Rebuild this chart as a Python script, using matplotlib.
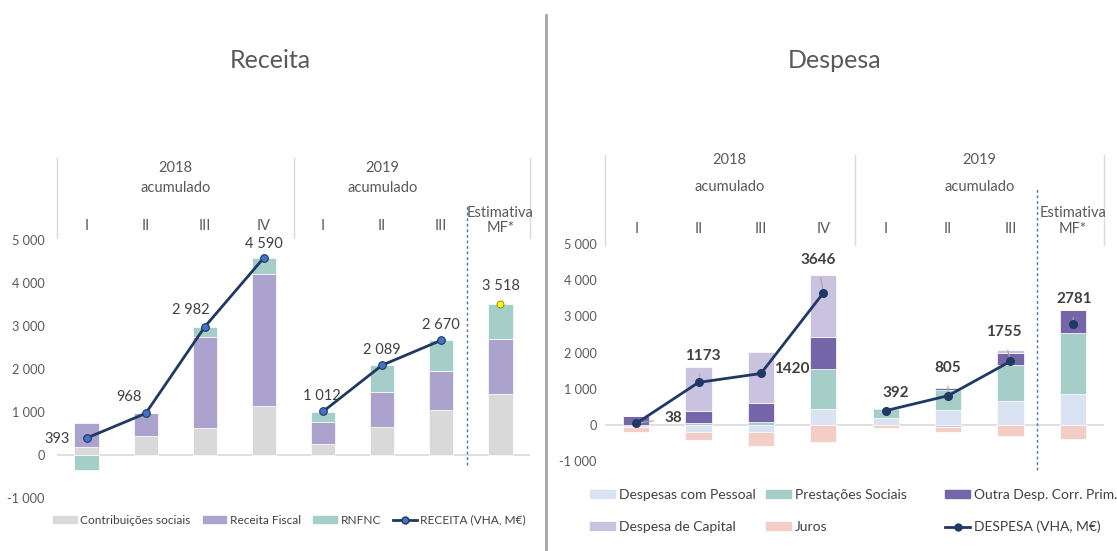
import numpy as np
import matplotlib.pyplot as plt
from matplotlib.patches import Patch
from matplotlib.lines import Line2D
from matplotlib.ticker import FuncFormatter

plt.rcParams['font.family'] = ['Lato', 'DejaVu Sans']

# Categories
quarters = ["I", "II", "III", "IV", "I", "II", "III", "Estimativa\nMF*"]

# Receita (M€)
contrib_sociais = [180, 440, 620, 1140, 250, 650, 1040, 1430]
receita_fiscal = [560, 530, 2130, 3075, 520, 810, 920, 1260]
rnfnc = [-350, 0, 230, 375, 240, 630, 710, 830]
receita_total = [393, 968, 2982, 4590, 1012, 2089, 2670, 3518]
receita_labels = ["393", "968", "2 982", "4 590", "1 012", "2 089", "2 670", "3 518"]

# Despesa (M€)
desp_pessoal = [-70, -185, -185, 440, 200, 400, 650, 860]
prest_sociais = [0, 50, 65, 1100, 230, 575, 1000, 1670]
outra_desp = [240, 320, 545, 900, 45, 45, 325, 650]
desp_capital = [10, 1220, 1400, 1690, 0, -50, 85, 0]
juros = [-140, -230, -400, -480, -80, -160, -305, -400]
despesa_total = [38, 1173, 1420, 3646, 392, 805, 1755, 2781]

GREY_TXT = "#595959"
NAVY = "#1F3864"

fig = plt.figure(figsize=(11.17, 5.51), dpi=100)
W, H = 1117, 551


def ax_at(x0, x1, y_top, y_bot):
    return fig.add_axes([x0 / W, 1 - y_bot / H, (x1 - x0) / W, (y_bot - y_top) / H])


def stack(ax, series, colors, width):
    x = np.arange(len(quarters))
    pos = np.zeros(len(x))
    neg = np.zeros(len(x))
    for vals, c in zip(series, colors):
        v = np.array(vals, dtype=float)
        base = np.where(v >= 0, pos, neg)
        ax.bar(x, v, width, bottom=base, color=c, edgecolor="white", linewidth=0.5, zorder=2)
        pos = pos + np.where(v >= 0, v, 0)
        neg = neg + np.where(v < 0, v, 0)


def style_axes(ax, pad):
    for s in ax.spines.values():
        s.set_visible(False)
    ax.set_xlim(-0.5, 7.5)
    ax.set_ylim(-1000, 5000)
    ax.set_yticks(range(-1000, 5001, 1000))
    ax.yaxis.set_major_formatter(FuncFormatter(lambda v, p: f"{int(v):,}".replace(",", " ")))
    ax.tick_params(axis="y", length=0, labelsize=9.2, colors=GREY_TXT, pad=pad)
    ax.set_xticks([])
    ax.axhline(0, color="#D9D9D9", lw=1.2, zorder=1)


def header(ax, y_lines, y_year, y_acum, y_rom, y_est, x_2019, dash_top, dash_bot):
    tr = ax.get_xaxis_transform()
    for xv in [-0.5, 3.5, 7.5]:
        ax.plot([xv, xv], y_lines, transform=tr, color="#D9D9D9", lw=1, clip_on=False)
    kw = dict(transform=tr, ha="center", va="center", fontsize=10.5, color=GREY_TXT)
    ax.text(1.5, y_year, "2018", **kw)
    ax.text(1.5, y_acum, "acumulado", **kw)
    ax.text(x_2019, y_year, "2019", **kw)
    ax.text(x_2019, y_acum, "acumulado", **kw)
    for i, q in enumerate(quarters):
        yy = y_est if "\n" in q else y_rom
        ax.text(i, yy, q, linespacing=1.1, **kw)
    ax.plot([6.43, 6.43], [dash_bot, dash_top], transform=tr, color="#4472C4", lw=1,
            ls=(0, (2, 2)), clip_on=False)


def line_segments(ax, totals, **style):
    # 2018 and 2019 are drawn as separate lines
    ax.plot(range(0, 4), totals[0:4], **style)
    ax.plot(range(4, 7), totals[4:7], **style)


# ---------- Receita ----------
axL = ax_at(57, 530, 240, 498)
style_axes(axL, 9)
stack(axL, [contrib_sociais, receita_fiscal, rnfnc], ["#D9D9D9", "#ABA3CD", "#A6CEC8"], 0.41)
line_segments(axL, receita_total, color=NAVY, lw=2, marker="o", ms=5.5, mfc="#4472C4",
              mec=NAVY, mew=0.8, zorder=4)
axL.plot(7, receita_total[7], marker="o", ms=5, mfc="#FFFF00", mec="#7F7F00", mew=0.6, zorder=4)
offL = [(-21, -1), (-12, 12), (-10, 12), (0, 10), (-1, 11), (0, 11), (0, 11), (0, 13)]
for i, (v, lab) in enumerate(zip(receita_total, receita_labels)):
    axL.annotate(lab, (i, v), xytext=offL[i], textcoords="offset points", ha="center",
                 va="center", fontsize=10.5, color="#404040")
header(axL, (1.318, 1.008), 1.279, 1.202, 1.054, 1.076, 5.0, 1.136, 0.128)
fig.text(270 / W, 1 - 60 / H, "Receita", ha="center", va="center", fontsize=18, color=GREY_TXT)

hL = [Patch(color="#D9D9D9"), Patch(color="#ABA3CD"), Patch(color="#A6CEC8"),
      Line2D([], [], color=NAVY, lw=2, marker="o", ms=5, mfc="#4472C4", mec=NAVY)]
fig.legend(hL, ["Contribuições sociais", "Receita Fiscal", "RNFNC", "RECEITA (VHA, M€)"],
           loc="center left", bbox_to_anchor=(48 / W, 1 - 520 / H), ncol=4, frameon=False,
           fontsize=8.6, handlelength=2.0, handleheight=0.55, handletextpad=0.3,
           columnspacing=1.0, labelcolor="#404040", borderaxespad=0)

# ---------- Despesa ----------
axR = ax_at(605, 1104, 244, 461)
style_axes(axR, 6)
cols_R = ["#DAE3F3", "#A6CEC8", "#7565A9", "#C9C3DF", "#F4CDC7"]
stack(axR, [desp_pessoal, prest_sociais, outra_desp, desp_capital, juros], cols_R, 0.42)
line_segments(axR, despesa_total, color=NAVY, lw=2, marker="o", ms=5.5, mfc=NAVY, mec=NAVY,
              zorder=4)
axR.plot(7, despesa_total[7], marker="o", ms=5.5, mfc=NAVY, mec=NAVY, zorder=4)
offR = [(27, 4), (3, 19), (22, 3), (-4, 24), (7, 13), (0, 20), (-5, 21), (1, 18)]
for i, v in enumerate(despesa_total):
    axR.annotate(str(v), (i, v), xytext=offR[i], textcoords="offset points", ha="center",
                 va="center", fontsize=11, fontweight="bold", color="#404040",
                 arrowprops=dict(arrowstyle="-", color="#A6A6A6", lw=0.8, shrinkA=6, shrinkB=2))
header(axR, (1.41, 0.995), 1.387, 1.263, 1.069, 1.106, 5.5, 1.258, -0.041)
fig.text(835 / W, 1 - 60 / H, "Despesa", ha="center", va="center", fontsize=18, color=GREY_TXT)

# right legend: three columns placed separately
legend_cols = [
    ([Patch(color=cols_R[0]), Patch(color=cols_R[3])],
     ["Despesas com Pessoal", "Despesa de Capital"], 590),
    ([Patch(color=cols_R[1]), Patch(color=cols_R[4])],
     ["Prestações Sociais", "Juros"], 766),
    ([Patch(color=cols_R[2]),
      Line2D([], [], color=NAVY, lw=2, marker="o", ms=5, mfc=NAVY, mec=NAVY)],
     ["Outra Desp. Corr. Prim.", "DESPESA (VHA, M€)"], 945),
]
for handles, labels, xpx in legend_cols:
    fig.legend(handles, labels, loc="center left", bbox_to_anchor=(xpx / W, 1 - 511 / H),
               ncol=1, frameon=False, fontsize=10.0, handlelength=1.8, handleheight=0.5,
               handletextpad=0.3, labelspacing=1.4, labelcolor="#404040", borderaxespad=0,
               borderpad=0)

# separator between the two panels
fig.add_artist(Line2D([546 / W, 546 / W], [0, 1 - 15 / H], transform=fig.transFigure,
                      color="#A6A6A6", lw=2))

fig.savefig("out.png", dpi=100)
